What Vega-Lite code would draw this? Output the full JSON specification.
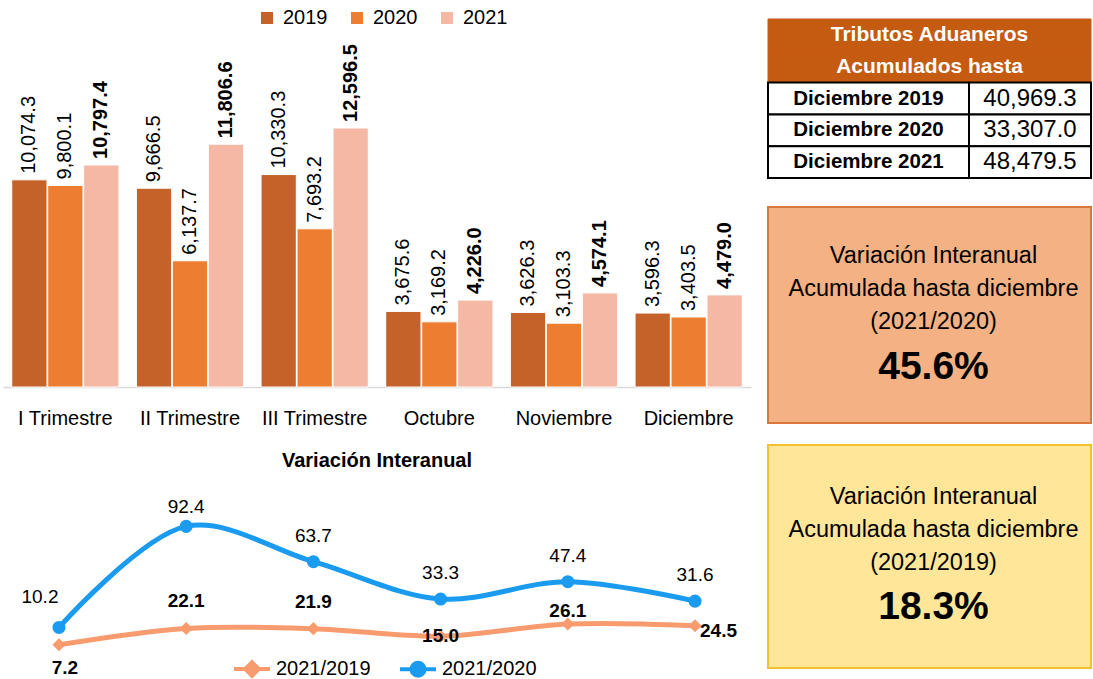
{
  "$schema": "https://vega.github.io/schema/vega-lite/v6.json",
  "padding": {"left": 3, "top": 0, "right": 0, "bottom": 0},
  "background": "white",
  "config": {
    "view": {"stroke": null},
    "font": "Liberation Sans, Arial, sans-serif",
    "text": {"font": "Liberation Sans, Arial, sans-serif", "color": "black"},
    "legend": {"labelFont": "Liberation Sans, Arial, sans-serif", "labelColor": "black"},
    "axis": {"labelFont": "Liberation Sans, Arial, sans-serif"},
    "title": {"font": "Liberation Sans, Arial, sans-serif"}
  },
  "datasets": {
    "barras": [
      {"periodo": "I Trimestre", "anio": "2019", "monto": 10074.3},
      {"periodo": "I Trimestre", "anio": "2020", "monto": 9800.1},
      {"periodo": "I Trimestre", "anio": "2021", "monto": 10797.4},
      {"periodo": "II Trimestre", "anio": "2019", "monto": 9666.5},
      {"periodo": "II Trimestre", "anio": "2020", "monto": 6137.7},
      {"periodo": "II Trimestre", "anio": "2021", "monto": 11806.6},
      {"periodo": "III Trimestre", "anio": "2019", "monto": 10330.3},
      {"periodo": "III Trimestre", "anio": "2020", "monto": 7693.2},
      {"periodo": "III Trimestre", "anio": "2021", "monto": 12596.5},
      {"periodo": "Octubre", "anio": "2019", "monto": 3675.6},
      {"periodo": "Octubre", "anio": "2020", "monto": 3169.2},
      {"periodo": "Octubre", "anio": "2021", "monto": 4226.0},
      {"periodo": "Noviembre", "anio": "2019", "monto": 3626.3},
      {"periodo": "Noviembre", "anio": "2020", "monto": 3103.3},
      {"periodo": "Noviembre", "anio": "2021", "monto": 4574.1},
      {"periodo": "Diciembre", "anio": "2019", "monto": 3596.3},
      {"periodo": "Diciembre", "anio": "2020", "monto": 3403.5},
      {"periodo": "Diciembre", "anio": "2021", "monto": 4479.0}
    ],
    "variacion": [
      {"periodo": "I Trimestre", "serie": "2021/2019", "valor": 7.2},
      {"periodo": "II Trimestre", "serie": "2021/2019", "valor": 22.1},
      {"periodo": "III Trimestre", "serie": "2021/2019", "valor": 21.9},
      {"periodo": "Octubre", "serie": "2021/2019", "valor": 15.0},
      {"periodo": "Noviembre", "serie": "2021/2019", "valor": 26.1},
      {"periodo": "Diciembre", "serie": "2021/2019", "valor": 24.5},
      {"periodo": "I Trimestre", "serie": "2021/2020", "valor": 10.2},
      {"periodo": "II Trimestre", "serie": "2021/2020", "valor": 92.4},
      {"periodo": "III Trimestre", "serie": "2021/2020", "valor": 63.7},
      {"periodo": "Octubre", "serie": "2021/2020", "valor": 33.3},
      {"periodo": "Noviembre", "serie": "2021/2020", "valor": 47.4},
      {"periodo": "Diciembre", "serie": "2021/2020", "valor": 31.6}
    ],
    "tabla": [
      {"periodo": "Diciembre 2019", "monto": 40969.3},
      {"periodo": "Diciembre 2020", "monto": 33307.0},
      {"periodo": "Diciembre 2021", "monto": 48479.5}
    ],
    "encabezado": [
      {"encabezado": "Tributos Aduaneros"},
      {"encabezado": "Acumulados hasta"}
    ]
  },
  "resolve": {"scale": {"color": "independent"}, "legend": {"color": "independent"}},
  "spacing": 16,
  "hconcat": [
    {
      "spacing": 93,
      "bounds": "flush",
      "resolve": {"scale": {"color": "independent"}, "legend": {"color": "independent"}},
      "vconcat": [
        {
          "width": 748,
          "height": 387,
          "data": {"name": "barras"},
          "encoding": {
            "x": {
              "field": "periodo", "type": "nominal",
              "sort": ["I Trimestre", "II Trimestre", "III Trimestre", "Octubre", "Noviembre", "Diciembre"],
              "scale": {"paddingInner": 0.14, "paddingOuter": 0.07},
              "axis": {"title": null, "labelAngle": 0, "labelFontSize": 20, "labelPadding": 21, "ticks": false, "tickSize": 0, "domainColor": "#D9D9D9", "domainWidth": 1.5, "labelColor": "black"}
            },
            "xOffset": {"field": "anio", "type": "nominal", "sort": ["2019", "2020", "2021"], "scale": {"paddingInner": 0.02}},
            "y": {"field": "monto", "type": "quantitative", "scale": {"domain": [0, 18820], "nice": false, "zero": true}, "axis": null}
          },
          "layer": [
            {
              "mark": {"type": "bar", "stroke": "white", "strokeWidth": 1},
              "encoding": {
                "color": {
                  "field": "anio", "type": "nominal",
                  "scale": {"domain": ["2019", "2020", "2021"], "range": ["#C5622A", "#ED7D31", "#F4B8A4"]},
                  "legend": {"title": null, "orient": "none", "legendX": 254, "legendY": 8, "direction": "horizontal", "symbolType": "square", "symbolSize": 144, "symbolStrokeWidth": 0, "labelFontSize": 20, "labelOffset": 6, "columnPadding": 19}
                }
              }
            },
            {
              "transform": [{"filter": "datum.anio !== '2021'"}],
              "mark": {"type": "text", "angle": 270, "align": "left", "baseline": "middle", "dx": 6, "fontSize": 20},
              "encoding": {"text": {"field": "monto", "type": "quantitative", "format": ",.1f"}}
            },
            {
              "transform": [{"filter": "datum.anio === '2021'"}],
              "mark": {"type": "text", "angle": 270, "align": "left", "baseline": "middle", "dx": 6, "fontSize": 20, "fontWeight": "bold"},
              "encoding": {"text": {"field": "monto", "type": "quantitative", "format": ",.1f"}}
            }
          ]
        },
        {
          "width": 748,
          "height": 190,
          "title": {"text": "Variación Interanual", "fontSize": 20, "fontWeight": "bold", "color": "black", "offset": 9, "anchor": "middle"},
          "data": {"name": "variacion"},
          "encoding": {
            "x": {
              "field": "periodo", "type": "nominal",
              "sort": ["I Trimestre", "II Trimestre", "III Trimestre", "Octubre", "Noviembre", "Diciembre"],
              "scale": {"type": "point", "padding": 0.44},
              "axis": null
            },
            "color": {
              "field": "serie", "type": "nominal",
              "scale": {"domain": ["2021/2019", "2021/2020"], "range": ["#F89C6F", "#1A9BF0"]},
              "legend": {
                "title": null, "orient": "none", "legendX": 229, "legendY": 169, "direction": "horizontal",
                "symbolSize": 1296, "labelFontSize": 20, "labelOffset": 4, "columnPadding": 21,
                "encode": {
                  "symbols": {
                    "update": {
                      "shape": {"signal": "datum.value === '2021/2019' ? 'M-1,0L1,0M0,-0.38L0.38,0L0,0.38L-0.38,0Z' : 'M-1,0L1,0M0.36,0A0.36,0.36,0,1,1,-0.36,0A0.36,0.36,0,1,1,0.36,0Z'"},
                      "fill": {"signal": "datum.value === '2021/2019' ? '#F89C6F' : '#1A9BF0'"},
                      "stroke": {"signal": "datum.value === '2021/2019' ? '#F89C6F' : '#1A9BF0'"},
                      "strokeWidth": {"value": 4},
                      "opacity": {"value": 1}
                    }
                  }
                }
              }
            }
          },
          "resolve": {"scale": {"y": "independent"}},
          "layer": [
            {
              "transform": [{"filter": "datum.serie === '2021/2019'"}],
              "encoding": {"y": {"field": "valor", "type": "quantitative", "scale": {"domain": [-15.7, 157], "nice": false, "zero": false}, "axis": null}},
              "layer": [
                {"mark": {"type": "line", "interpolate": "catmull-rom", "strokeWidth": 5}},
                {"mark": {"type": "point", "shape": "diamond", "filled": true, "size": 170, "opacity": 1}},
                {
                  "transform": [{"filter": {"field": "periodo", "oneOf": ["II Trimestre", "III Trimestre"]}}],
                  "mark": {"type": "text", "fontWeight": "bold", "fontSize": 19, "baseline": "middle", "dy": -27},
                  "encoding": {"text": {"field": "valor", "type": "quantitative", "format": ".1f"}, "color": {"value": "black"}}
                },
                {
                  "transform": [{"filter": {"field": "periodo", "equal": "Octubre"}}],
                  "mark": {"type": "text", "fontWeight": "bold", "fontSize": 19, "baseline": "middle", "dy": 0},
                  "encoding": {"text": {"field": "valor", "type": "quantitative", "format": ".1f"}, "color": {"value": "black"}}
                },
                {
                  "transform": [{"filter": {"field": "periodo", "equal": "Noviembre"}}],
                  "mark": {"type": "text", "fontWeight": "bold", "fontSize": 19, "baseline": "middle", "dy": -13},
                  "encoding": {"text": {"field": "valor", "type": "quantitative", "format": ".1f"}, "color": {"value": "black"}}
                },
                {
                  "transform": [{"filter": {"field": "periodo", "equal": "I Trimestre"}}],
                  "mark": {"type": "text", "fontWeight": "bold", "fontSize": 19, "baseline": "middle", "dx": 6, "dy": 23},
                  "encoding": {"text": {"field": "valor", "type": "quantitative", "format": ".1f"}, "color": {"value": "black"}}
                },
                {
                  "transform": [{"filter": {"field": "periodo", "equal": "Diciembre"}}],
                  "mark": {"type": "text", "fontWeight": "bold", "fontSize": 19, "baseline": "middle", "align": "left", "dx": 5, "dy": 5},
                  "encoding": {"text": {"field": "valor", "type": "quantitative", "format": ".1f"}, "color": {"value": "black"}}
                }
              ]
            },
            {
              "transform": [{"filter": "datum.serie === '2021/2020'"}],
              "encoding": {"y": {"field": "valor", "type": "quantitative", "scale": {"domain": [-24.4, 130.1], "nice": false, "zero": false}, "axis": null}},
              "layer": [
                {"mark": {"type": "line", "interpolate": "catmull-rom", "strokeWidth": 5}},
                {"mark": {"type": "point", "shape": "circle", "filled": true, "size": 170, "opacity": 1}},
                {
                  "transform": [{"filter": {"field": "periodo", "oneOf": ["III Trimestre", "Octubre", "Noviembre", "Diciembre"]}}],
                  "mark": {"type": "text", "fontSize": 19, "baseline": "middle", "dy": -26},
                  "encoding": {"text": {"field": "valor", "type": "quantitative", "format": ".1f"}, "color": {"value": "black"}}
                },
                {
                  "transform": [{"filter": {"field": "periodo", "equal": "II Trimestre"}}],
                  "mark": {"type": "text", "fontSize": 19, "baseline": "middle", "dy": -19},
                  "encoding": {"text": {"field": "valor", "type": "quantitative", "format": ".1f"}, "color": {"value": "black"}}
                },
                {
                  "transform": [{"filter": {"field": "periodo", "equal": "I Trimestre"}}],
                  "mark": {"type": "text", "fontSize": 19, "baseline": "middle", "dx": -19, "dy": -30},
                  "encoding": {"text": {"field": "valor", "type": "quantitative", "format": ".1f"}, "color": {"value": "black"}}
                }
              ]
            }
          ]
        }
      ]
    },
    {
      "spacing": 20,
      "vconcat": [
        {
          "spacing": 0,
          "bounds": "flush",
          "hconcat": [
            {
              "width": 201, "height": 186,
              "encoding": {"y": {"type": "nominal", "scale": {"domain": ["Tributos Aduaneros", "Acumulados hasta", "Diciembre 2019", "Diciembre 2020", "Diciembre 2021"], "paddingInner": 0, "paddingOuter": 0.4245, "align": 0.704}, "axis": null}},
              "layer": [
                {
                  "data": {"name": "encabezado"},
                  "mark": {"type": "rect", "fill": "#C55A11", "stroke": "#C55A11", "strokeWidth": 1},
                  "encoding": {"y": {"field": "encabezado", "type": "nominal", "axis": null}, "x": {"value": 0}, "x2": {"value": "width"}}
                },
                {
                  "data": {"name": "tabla"},
                  "mark": {"type": "rect", "fill": "white", "stroke": "black", "strokeWidth": 2},
                  "encoding": {"y": {"field": "periodo", "type": "nominal", "axis": null}, "x": {"value": 0}, "x2": {"value": "width"}}
                },
                {
                  "data": {"name": "tabla"},
                  "mark": {"type": "text", "fontWeight": "bold", "fontSize": 20.5, "baseline": "middle"},
                  "encoding": {"y": {"field": "periodo", "type": "nominal", "axis": null}, "text": {"field": "periodo", "type": "nominal"}}
                }
              ]
            },
            {
              "width": 122, "height": 186,
              "encoding": {"y": {"type": "nominal", "scale": {"domain": ["Tributos Aduaneros", "Acumulados hasta", "Diciembre 2019", "Diciembre 2020", "Diciembre 2021"], "paddingInner": 0, "paddingOuter": 0.4245, "align": 0.704}, "axis": null}},
              "layer": [
                {
                  "data": {"name": "encabezado"},
                  "mark": {"type": "rect", "fill": "#C55A11", "stroke": "#C55A11", "strokeWidth": 1},
                  "encoding": {"y": {"field": "encabezado", "type": "nominal", "axis": null}, "x": {"value": 0}, "x2": {"value": "width"}}
                },
                {
                  "data": {"name": "tabla"},
                  "mark": {"type": "rect", "fill": "white", "stroke": "black", "strokeWidth": 2},
                  "encoding": {"y": {"field": "periodo", "type": "nominal", "axis": null}, "x": {"value": 0}, "x2": {"value": "width"}}
                },
                {
                  "data": {"name": "tabla"},
                  "mark": {"type": "text", "fontSize": 24, "baseline": "middle"},
                  "encoding": {"y": {"field": "periodo", "type": "nominal", "axis": null}, "text": {"field": "monto", "type": "quantitative", "format": ",.1f"}}
                },
                {
                  "data": {"name": "encabezado"},
                  "mark": {"type": "text", "color": "white", "fontWeight": "bold", "fontSize": 21, "baseline": "middle", "dx": -100.5},
                  "encoding": {"y": {"field": "encabezado", "type": "nominal", "axis": null}, "text": {"field": "encabezado", "type": "nominal"}}
                }
              ]
            }
          ]
        },
        {
          "width": 323, "height": 216,
          "view": {"fill": "#F4B183", "stroke": "#D9783A", "strokeWidth": 2},
          "data": {"values": [{"texto": "Variación Interanual\nAcumulada hasta diciembre\n(2021/2020)", "valor": "45.6%"}]},
          "layer": [
            {"mark": {"type": "text", "fontSize": 23.5, "lineBreak": "\n", "lineHeight": 33, "baseline": "alphabetic", "dx": 4, "dy": -52}, "encoding": {"text": {"field": "texto", "type": "nominal"}}},
            {"mark": {"type": "text", "fontSize": 39, "fontWeight": "bold", "baseline": "alphabetic", "dx": 4, "dy": 64}, "encoding": {"text": {"field": "valor", "type": "nominal"}}}
          ]
        },
        {
          "width": 323, "height": 223,
          "view": {"fill": "#FFE699", "stroke": "#F2C12E", "strokeWidth": 2},
          "data": {"values": [{"texto": "Variación Interanual\nAcumulada hasta diciembre\n(2021/2019)", "valor": "18.3%"}]},
          "layer": [
            {"mark": {"type": "text", "fontSize": 23.5, "lineBreak": "\n", "lineHeight": 33, "baseline": "alphabetic", "dx": 4, "dy": -53}, "encoding": {"text": {"field": "texto", "type": "nominal"}}},
            {"mark": {"type": "text", "fontSize": 39, "fontWeight": "bold", "baseline": "alphabetic", "dx": 4, "dy": 62}, "encoding": {"text": {"field": "valor", "type": "nominal"}}}
          ]
        }
      ]
    }
  ]
}
